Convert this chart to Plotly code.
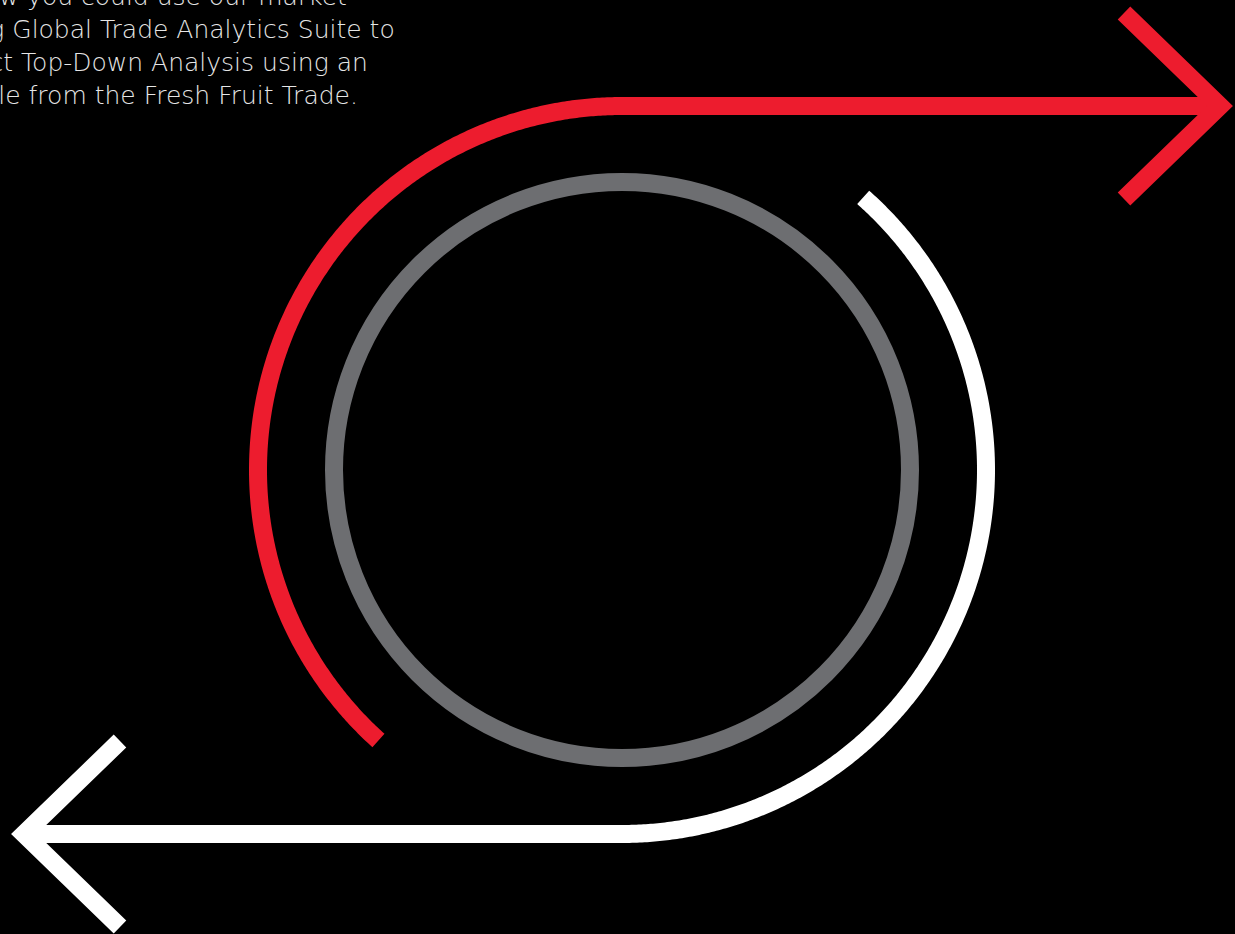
import numpy as np
import plotly.graph_objects as go

# ---- canvas / geometry parameters (pixel space) ----
W, H = 1235, 934
CENTER_X, CENTER_Y = 622, 470
RING_RADIUS = 288            # grey inner ring
ARC_RADIUS = 364             # red & white outer arcs
RED_ARC_DEG = [90, 228]      # start, end angle (math convention, counter-clockwise)
WHITE_ARC_DEG = [48.5, -90]
RED_LINE_TIP_X = 1220        # red arrow runs right to here
WHITE_LINE_TIP_X = 24        # white arrow runs left to here
HEAD_DX = 96                 # arrow-head arm horizontal length
HEAD_DY = 93                 # arrow-head arm vertical length
STROKE = 18

COLORS = {"red": "#ED1C2E", "white": "#FFFFFF", "grey": "#6D6E71",
          "bg": "#000000", "text": "#E6E6E6"}

TEXT_LINES = [
    "See how you could use our market-",
    "leading Global Trade Analytics Suite to",
    "conduct Top-Down Analysis using an",
    "example from the Fresh Fruit Trade.",
]
TEXT_LEFT_X = -89
TEXT_BASELINES = [4, 37, 70, 103]
TEXT_SIZE = 25


def arc(a0, a1, r):
    t = np.radians(np.linspace(a0, a1, 360))
    return CENTER_X + r * np.cos(t), CENTER_Y - r * np.sin(t)


fig = go.Figure()
LINE_KW = dict(width=STROKE, simplify=False)

# red arc + line to the right
rx, ry = arc(RED_ARC_DEG[0], RED_ARC_DEG[1], ARC_RADIUS)
rx = np.concatenate([[RED_LINE_TIP_X], rx])
ry = np.concatenate([[CENTER_Y - ARC_RADIUS], ry])
fig.add_trace(go.Scatter(x=rx, y=ry, mode="lines",
                         line=dict(color=COLORS["red"], **LINE_KW)))
ry0 = CENTER_Y - ARC_RADIUS
fig.add_trace(go.Scatter(
    x=[RED_LINE_TIP_X - HEAD_DX, RED_LINE_TIP_X, RED_LINE_TIP_X - HEAD_DX],
    y=[ry0 - HEAD_DY, ry0, ry0 + HEAD_DY], mode="lines",
    line=dict(color=COLORS["red"], **LINE_KW)))

# white arc + line to the left
wx, wy = arc(WHITE_ARC_DEG[0], WHITE_ARC_DEG[1], ARC_RADIUS)
wx = np.concatenate([wx, [WHITE_LINE_TIP_X]])
wy = np.concatenate([wy, [CENTER_Y + ARC_RADIUS]])
fig.add_trace(go.Scatter(x=wx, y=wy, mode="lines",
                         line=dict(color=COLORS["white"], **LINE_KW)))
wy0 = CENTER_Y + ARC_RADIUS
fig.add_trace(go.Scatter(
    x=[WHITE_LINE_TIP_X + HEAD_DX, WHITE_LINE_TIP_X, WHITE_LINE_TIP_X + HEAD_DX],
    y=[wy0 - HEAD_DY, wy0, wy0 + HEAD_DY], mode="lines",
    line=dict(color=COLORS["white"], **LINE_KW)))

# grey ring
fig.add_shape(type="circle", xref="x", yref="y",
              x0=CENTER_X - RING_RADIUS, x1=CENTER_X + RING_RADIUS,
              y0=CENTER_Y - RING_RADIUS, y1=CENTER_Y + RING_RADIUS,
              line=dict(color=COLORS["grey"], width=STROKE))

for line, base in zip(TEXT_LINES, TEXT_BASELINES):
    fig.add_annotation(x=TEXT_LEFT_X / W, y=1 - (base + 9) / H, xref="paper", yref="paper",
                       text=line, showarrow=False, xanchor="left", yanchor="bottom",
                       font=dict(family="DejaVu Sans", size=TEXT_SIZE, color=COLORS["text"], weight=200))

fig.update_layout(
    width=W, height=H, margin=dict(l=0, r=0, t=0, b=0),
    paper_bgcolor=COLORS["bg"], plot_bgcolor=COLORS["bg"], showlegend=False,
    xaxis=dict(range=[0, W], visible=False, fixedrange=True),
    yaxis=dict(range=[H, 0], visible=False, fixedrange=True),
)

fig.write_html("out.html", config={"displayModeBar": False},
               post_script="document.body.style.margin='0';document.body.style.overflow='hidden';")
